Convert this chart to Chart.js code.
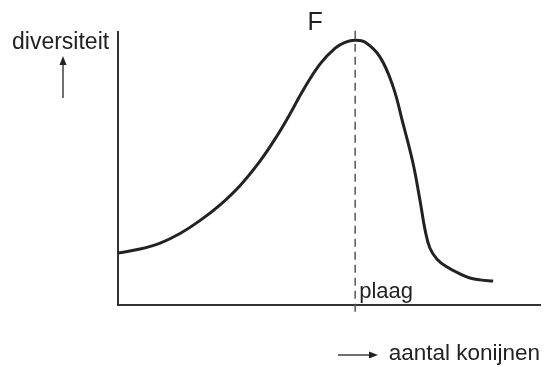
<!DOCTYPE html>
<html>
<head>
<meta charset="utf-8">
<script src="https://cdn.jsdelivr.net/npm/chart.js@4/dist/chart.umd.min.js"></script>
<style>
  html, body { margin: 0; padding: 0; background: #fff; }
  #wrap { width: 546px; height: 367px; }
</style>
</head>
<body>
<div id="wrap"><canvas id="chart"></canvas></div>
<script>
// curve (x: 0-100 along the axis, y: 0-100 up the axis)
const curveX = [0, 5.2, 10, 14.7, 19.4, 24.2, 28.9, 33.6, 37.7, 40.8, 43.8, 47.9, 51.4, 53.8, 56.2,
                58.5, 62.1, 65.2, 67.5, 69.9, 71.6, 72.7, 73.9, 75.6, 78, 81, 83.4, 85.8, 88.9];
const curveY = [19, 20.5, 22.7, 26.2, 30.9, 36.7, 43.7, 52.6, 62, 70.1, 78.5, 88.3, 94, 96.2, 97,
                96.3, 90.8, 79.9, 66.7, 52, 38, 28, 20.9, 16.8, 13.9, 11.4, 9.9, 9.2, 8.8];

const peakX = 56.2;          // "plaag" marker
const markerY = [-2.5, 101];

const yLabel = "diversiteit";
const xLabel = "aantal konijnen";
const peakLabel = "F";
const plagueLabel = "plaag";

const ink = "#222";
const font = "'Liberation Sans', Arial, sans-serif";

const curve = curveX.map((x, i) => ({ x: x, y: curveY[i] }));
const marker = markerY.map(y => ({ x: peakX, y: y }));

// labels and little arrows around the axes
const labelsPlugin = {
  id: "labels",
  afterDraw(chart) {
    const ctx = chart.ctx;
    const xs = chart.scales.x;
    const px = xs.getPixelForValue(peakX);
    ctx.save();
    ctx.fillStyle = ink;
    ctx.strokeStyle = ink;
    ctx.textBaseline = "alphabetic";

    ctx.font = "23px " + font;
    ctx.textAlign = "left";
    ctx.fillText(yLabel, 12, 49);
    ctx.font = "22px " + font;
    ctx.fillText(plagueLabel, px + 4, 298);
    ctx.textAlign = "right";
    ctx.font = "22.5px " + font;
    ctx.fillText(xLabel, 540, 360);

    ctx.font = "25px " + font;
    ctx.textAlign = "center";
    ctx.fillText(peakLabel, px - 40, 30);

    // up arrow under the y label
    ctx.lineWidth = 1.3;
    ctx.beginPath();
    ctx.moveTo(63, 98);
    ctx.lineTo(63, 62);
    ctx.stroke();
    ctx.beginPath();
    ctx.moveTo(63, 56);
    ctx.lineTo(59.5, 65);
    ctx.lineTo(66.5, 65);
    ctx.closePath();
    ctx.fill();

    // right arrow before the x label
    ctx.beginPath();
    ctx.moveTo(338, 355);
    ctx.lineTo(370, 355);
    ctx.stroke();
    ctx.beginPath();
    ctx.moveTo(378, 355);
    ctx.lineTo(369, 351.5);
    ctx.lineTo(369, 358.5);
    ctx.closePath();
    ctx.fill();
    ctx.restore();
  }
};

new Chart(document.getElementById("chart"), {
  type: "scatter",
  data: {
    datasets: [
      {
        data: curve,
        showLine: true,
        borderColor: ink,
        borderWidth: 3,
        pointRadius: 0,
        tension: 0.4
      },
      {
        data: marker,
        showLine: true,
        borderColor: "#555",
        borderWidth: 1.5,
        borderDash: [8, 5],
        pointRadius: 0,
        clip: false
      }
    ]
  },
  options: {
    responsive: true,
    maintainAspectRatio: false,
    animation: false,
    events: [],
    layout: {
      padding: { left: 110, right: 6, top: 32, bottom: 54 }
    },
    plugins: {
      legend: { display: false },
      tooltip: { enabled: false }
    },
    scales: {
      x: {
        type: "linear",
        min: 0,
        max: 100,
        grid: { display: false },
        ticks: { display: false },
        border: { color: "#333", width: 2 }
      },
      y: {
        type: "linear",
        min: 0,
        max: 100,
        grid: { display: false },
        ticks: { display: false },
        border: { color: "#333", width: 2 }
      }
    }
  },
  plugins: [labelsPlugin]
});
</script>
</body>
</html>
